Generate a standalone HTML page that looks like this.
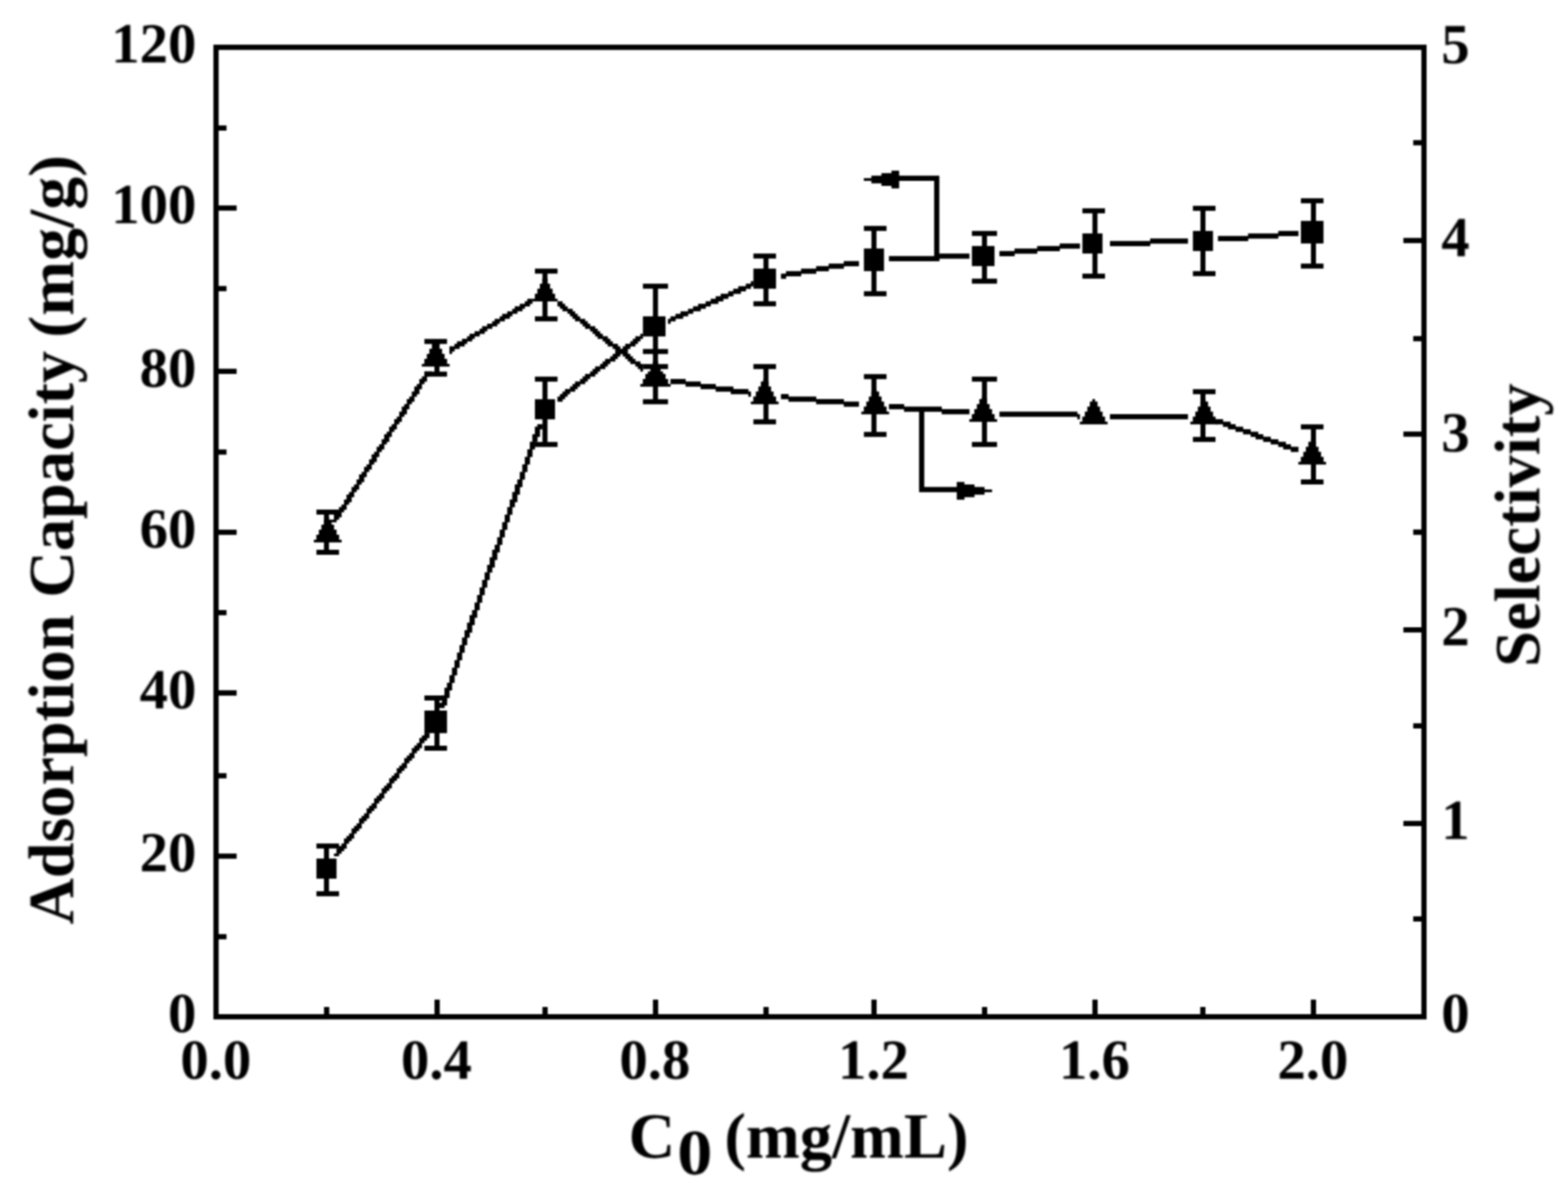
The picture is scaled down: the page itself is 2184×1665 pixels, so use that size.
<!DOCTYPE html>
<html lang="en"><head><meta charset="utf-8"><title>Adsorption Capacity and Selectivity vs C0</title>
<style>html,body{margin:0;padding:0;background:#fff;}body{width:2184px;height:1665px;}svg{display:block;}text{text-rendering:geometricPrecision;font-family:'Liberation Serif',serif;font-weight:bold;fill:#000;}</style></head><body>
<svg width="2184" height="1665" viewBox="0 0 2184 1665">
<rect x="0" y="0" width="2184" height="1665" fill="#fff"/>
<defs><filter id="soft" x="0" y="0" width="2184" height="1665" filterUnits="userSpaceOnUse" color-interpolation-filters="sRGB"><feGaussianBlur stdDeviation="1"/></filter><filter id="softer" x="0" y="0" width="2184" height="1665" filterUnits="userSpaceOnUse" color-interpolation-filters="sRGB"><feGaussianBlur stdDeviation="1.5"/></filter></defs>
<g filter="url(#soft)">
<rect x="300.90" y="65.90" width="1682.50" height="1350.80" fill="none" stroke="#000" stroke-width="7.30"/>
<path d="M300.90 178.30H315.50M300.90 289.80H329.60M300.90 402.20H315.50M300.90 517.40H329.60M300.90 629.80H315.50M300.90 741.70H329.60M300.90 853.70H315.50M300.90 965.50H329.60M300.90 1080.90H315.50M300.90 1192.90H329.60M300.90 1305.10H315.50M1983.40 198.90H1968.40M1983.40 335.20H1954.70M1983.40 471.90H1968.40M1983.40 604.80H1954.70M1983.40 741.50H1968.40M1983.40 877.70H1954.70M1983.40 1011.40H1968.40M1983.40 1147.30H1954.70M1983.40 1280.30H1968.40M454.97 1416.70V1402.90M608.85 1416.70V1392.70M759.20 1416.70V1402.90M913.10 1416.70V1392.70M1067.00 1416.70V1402.90M1217.40 1416.70V1392.70M1371.40 1416.70V1402.90M1525.20 1416.70V1392.70M1675.40 1416.70V1402.90M1829.45 1416.70V1392.70" stroke="#000" stroke-width="7.30" fill="none"/>
<path d="M591.04 1021.30H598.28V1025.03H591.04ZM587.54 1024.79H598.28V1028.53H587.54ZM584.05 1028.29H594.78V1032.03H584.05ZM584.05 1031.79H591.28V1035.53H584.05ZM580.55 1035.29H587.78V1039.03H580.55ZM577.05 1038.79H587.78V1042.52H577.05ZM573.55 1042.28H584.29V1046.02H573.55ZM573.55 1045.78H580.79V1049.52H573.55ZM570.05 1049.28H577.29V1053.02H570.05ZM566.56 1052.78H577.29V1056.52H566.56ZM563.06 1056.28H573.79V1060.01H563.06ZM563.06 1059.77H570.29V1063.51H563.06ZM559.56 1063.27H566.80V1067.01H559.56ZM556.06 1066.77H566.80V1070.51H556.06ZM552.56 1070.27H563.30V1074.01H552.56ZM552.56 1073.77H559.80V1077.50H552.56ZM549.07 1077.26H556.30V1081.00H549.07ZM545.57 1080.76H556.30V1084.50H545.57ZM542.07 1084.26H552.80V1088.00H542.07ZM542.07 1087.76H549.31V1091.50H542.07ZM538.57 1091.26H545.81V1094.99H538.57ZM535.07 1094.75H545.81V1098.49H535.07ZM531.58 1098.25H542.31V1101.99H531.58ZM531.58 1101.75H538.81V1105.49H531.58ZM528.08 1105.25H535.31V1108.99H528.08ZM524.58 1108.75H535.31V1112.48H524.58ZM521.08 1112.24H531.82V1115.98H521.08ZM521.08 1115.74H528.32V1119.48H521.08ZM517.58 1119.24H524.82V1122.98H517.58ZM514.09 1122.74H524.82V1126.48H514.09ZM510.59 1126.24H521.32V1129.97H510.59ZM510.59 1129.73H517.82V1133.47H510.59ZM507.09 1133.23H514.33V1136.97H507.09ZM503.59 1136.73H514.33V1140.47H503.59ZM500.09 1140.23H510.83V1143.97H500.09ZM500.09 1143.73H507.33V1147.46H500.09ZM496.60 1147.22H503.83V1150.96H496.60ZM493.10 1150.72H503.83V1154.46H493.10ZM489.60 1154.22H500.33V1157.96H489.60ZM489.60 1157.72H496.84V1161.46H489.60ZM486.10 1161.22H493.34V1164.95H486.10ZM482.60 1164.71H493.34V1168.45H482.60ZM479.11 1168.21H489.84V1171.95H479.11ZM479.11 1171.71H486.34V1175.45H479.11ZM475.61 1175.21H482.84V1178.95H475.61ZM472.11 1178.71H482.84V1182.44H472.11ZM468.61 1182.20H479.35V1185.94H468.61ZM468.61 1185.70H475.85V1189.44H468.61ZM465.11 1189.20H472.35V1192.94H465.11ZM748.45 591.04H755.69V594.78H748.45ZM744.95 594.54H755.69V598.28H744.95ZM744.95 598.04H752.19V601.78H744.95ZM744.95 601.54H752.19V605.27H744.95ZM741.46 605.03H752.19V608.77H741.46ZM741.46 608.53H748.69V612.27H741.46ZM741.46 612.03H748.69V615.77H741.46ZM737.96 615.53H745.19V619.27H737.96ZM737.96 619.03H745.19V622.76H737.96ZM737.96 622.52H745.19V626.26H737.96ZM734.46 626.02H741.70V629.76H734.46ZM734.46 629.52H741.70V633.26H734.46ZM734.46 633.02H741.70V636.76H734.46ZM730.96 636.52H738.20V640.25H730.96ZM730.96 640.01H738.20V643.75H730.96ZM730.96 643.51H738.20V647.25H730.96ZM727.46 647.01H734.70V650.75H727.46ZM727.46 650.51H734.70V654.25H727.46ZM727.46 654.01H734.70V657.74H727.46ZM723.97 657.50H731.20V661.24H723.97ZM723.97 661.00H731.20V664.74H723.97ZM723.97 664.50H731.20V668.24H723.97ZM720.47 668.00H727.70V671.74H720.47ZM720.47 671.50H727.70V675.23H720.47ZM716.97 674.99H727.70V678.73H716.97ZM716.97 678.49H724.21V682.23H716.97ZM716.97 681.99H724.21V685.73H716.97ZM713.47 685.49H724.21V689.23H713.47ZM713.47 688.99H720.71V692.72H713.47ZM713.47 692.48H720.71V696.22H713.47ZM709.97 695.98H720.71V699.72H709.97ZM709.97 699.48H717.21V703.22H709.97ZM709.97 702.98H717.21V706.72H709.97ZM706.48 706.48H713.71V710.21H706.48ZM706.48 709.97H713.71V713.71H706.48ZM706.48 713.47H713.71V717.21H706.48ZM702.98 716.97H710.21V720.71H702.98ZM702.98 720.47H710.21V724.21H702.98ZM702.98 723.97H710.21V727.70H702.98ZM699.48 727.46H706.72V731.20H699.48ZM699.48 730.96H706.72V734.70H699.48ZM699.48 734.46H706.72V738.20H699.48ZM695.98 737.96H703.22V741.70H695.98ZM695.98 741.46H703.22V745.19H695.98ZM695.98 744.95H703.22V748.69H695.98ZM692.48 748.45H699.72V752.19H692.48ZM692.48 751.95H699.72V755.69H692.48ZM692.48 755.45H699.72V759.19H692.48ZM688.99 758.95H696.22V762.68H688.99ZM688.99 762.44H696.22V766.18H688.99ZM685.49 765.94H696.22V769.68H685.49ZM685.49 769.44H692.72V773.18H685.49ZM685.49 772.94H692.72V776.68H685.49ZM681.99 776.44H692.72V780.17H681.99ZM681.99 779.93H689.23V783.67H681.99ZM681.99 783.43H689.23V787.17H681.99ZM678.49 786.93H689.23V790.67H678.49ZM678.49 790.43H685.73V794.17H678.49ZM678.49 793.93H685.73V797.66H678.49ZM674.99 797.42H682.23V801.16H674.99ZM674.99 800.92H682.23V804.66H674.99ZM674.99 804.42H682.23V808.16H674.99ZM671.50 807.92H678.73V811.66H671.50ZM671.50 811.42H678.73V815.15H671.50ZM671.50 814.91H678.73V818.65H671.50ZM668.00 818.41H675.23V822.15H668.00ZM668.00 821.91H675.23V825.65H668.00ZM668.00 825.41H675.23V829.15H668.00ZM664.50 828.91H671.74V832.64H664.50ZM664.50 832.40H671.74V836.14H664.50ZM664.50 835.90H671.74V839.64H664.50ZM661.00 839.40H668.24V843.14H661.00ZM661.00 842.90H668.24V846.64H661.00ZM661.00 846.40H668.24V850.13H661.00ZM657.50 849.89H664.74V853.63H657.50ZM657.50 853.39H664.74V857.13H657.50ZM654.01 856.89H664.74V860.63H654.01ZM654.01 860.39H661.24V864.13H654.01ZM654.01 863.89H661.24V867.62H654.01ZM650.51 867.38H661.24V871.12H650.51ZM650.51 870.88H657.74V874.62H650.51ZM650.51 874.38H657.74V878.12H650.51ZM647.01 877.88H657.74V881.62H647.01ZM647.01 881.38H654.25V885.11H647.01ZM647.01 884.87H654.25V888.61H647.01ZM643.51 888.37H650.75V892.11H643.51ZM643.51 891.87H650.75V895.61H643.51ZM643.51 895.37H650.75V899.11H643.51ZM640.01 898.87H647.25V902.60H640.01ZM640.01 902.36H647.25V906.10H640.01ZM640.01 905.86H647.25V909.60H640.01ZM636.52 909.36H643.75V913.10H636.52ZM636.52 912.86H643.75V916.60H636.52ZM636.52 916.36H643.75V920.09H636.52ZM633.02 919.85H640.25V923.59H633.02ZM633.02 923.35H640.25V927.09H633.02ZM633.02 926.85H640.25V930.59H633.02ZM629.52 930.35H636.76V934.09H629.52ZM629.52 933.85H636.76V937.58H629.52ZM629.52 937.34H636.76V941.08H629.52ZM626.02 940.84H633.26V944.58H626.02ZM626.02 944.34H633.26V948.08H626.02ZM626.02 947.84H633.26V951.58H626.02ZM622.52 951.34H629.76V955.07H622.52ZM622.52 954.83H629.76V958.57H622.52ZM619.03 958.33H629.76V962.07H619.03ZM619.03 961.83H626.26V965.57H619.03ZM619.03 965.33H626.26V969.07H619.03ZM615.53 968.83H626.26V972.56H615.53ZM615.53 972.32H622.76V976.06H615.53ZM615.53 975.82H622.76V979.56H615.53ZM612.03 979.32H622.76V983.06H612.03ZM612.03 982.82H619.27V986.56H612.03ZM891.87 465.11H895.61V468.85H891.87ZM884.87 468.61H895.61V472.35H884.87ZM881.38 472.11H892.11V475.85H881.38ZM877.88 475.61H888.61V479.35H877.88ZM870.88 479.11H885.11V482.84H870.88ZM867.38 482.60H878.12V486.34H867.38ZM863.89 486.10H874.62V489.84H863.89ZM856.89 489.60H871.12V493.34H856.89ZM853.39 493.10H864.13V496.84H853.39ZM849.89 496.60H860.63V500.33H849.89ZM842.90 500.09H857.13V503.83H842.90ZM839.40 503.59H850.13V507.33H839.40ZM835.90 507.09H846.64V510.83H835.90ZM828.91 510.59H843.14V514.33H828.91ZM825.41 514.09H836.14V517.82H825.41ZM821.91 517.58H832.64V521.32H821.91ZM814.91 521.08H829.15V524.82H814.91ZM811.42 524.58H822.15V528.32H811.42ZM807.92 528.08H818.65V531.82H807.92ZM800.92 531.58H815.15V535.31H800.92ZM797.42 535.07H808.16V538.81H797.42ZM793.93 538.57H804.66V542.31H793.93ZM786.93 542.07H801.16V545.81H786.93ZM783.43 545.57H794.17V549.31H783.43ZM779.93 549.07H790.67V552.80H779.93ZM776.44 552.56H787.17V556.30H776.44ZM776.44 556.06H783.67V559.80H776.44ZM1045.78 391.66H1049.52V395.39H1045.78ZM1038.79 395.15H1049.52V398.89H1038.79ZM1028.29 398.65H1046.02V402.39H1028.29ZM1021.30 402.15H1039.03V405.89H1021.30ZM1014.30 405.65H1032.03V409.39H1014.30ZM1003.81 409.15H1021.54V412.88H1003.81ZM996.81 412.64H1014.54V416.38H996.81ZM989.81 416.14H1007.54V419.88H989.81ZM982.82 419.64H1000.55V423.38H982.82ZM972.32 423.14H990.05V426.88H972.32ZM965.33 426.64H983.06V430.37H965.33ZM958.33 430.13H976.06V433.87H958.33ZM947.84 433.63H965.57V437.37H947.84ZM940.84 437.13H958.57V440.87H940.84ZM933.85 440.63H951.58V444.37H933.85ZM930.35 444.13H941.08V447.86H930.35ZM930.35 447.62H934.09V451.36H930.35ZM1175.21 363.67H1196.44V367.41H1175.21ZM1154.22 367.17H1196.44V370.91H1154.22ZM1136.73 370.67H1175.45V374.41H1136.73ZM1115.74 374.17H1154.46V377.90H1115.74ZM1094.75 377.66H1136.97V381.40H1094.75ZM1087.76 381.16H1115.98V384.90H1087.76ZM1087.76 384.66H1094.99V388.40H1087.76ZM1308.13 353.18H1350.35V356.92H1308.13ZM1238.17 356.68H1350.35V360.41H1238.17ZM1238.17 360.17H1308.37V363.91H1238.17ZM1476.04 339.19H1504.26V342.92H1476.04ZM1444.55 342.68H1504.26V346.42H1444.55ZM1413.07 346.18H1476.28V349.92H1413.07ZM1392.08 349.68H1444.79V353.42H1392.08ZM1392.08 353.18H1413.31V356.92H1392.08ZM1601.96 332.19H1654.67V335.93H1601.96ZM1546.00 335.69H1654.67V339.43H1546.00ZM1546.00 339.19H1602.20V342.92H1546.00ZM1780.36 321.70H1808.59V325.43H1780.36ZM1738.39 325.19H1808.59V328.93H1738.39ZM1696.41 328.69H1780.60V332.43H1696.41ZM1696.41 332.19H1738.63V335.93H1696.41Z" fill="#000"/>
<path d="M591.04 517.58H601.78V521.32H591.04ZM591.04 521.08H598.28V524.82H591.04ZM587.54 524.58H594.78V528.32H587.54ZM584.05 528.08H594.78V531.82H584.05ZM584.05 531.58H591.28V535.31H584.05ZM580.55 535.07H587.78V538.81H580.55ZM577.05 538.57H587.78V542.31H577.05ZM577.05 542.07H584.29V545.81H577.05ZM573.55 545.57H584.29V549.31H573.55ZM573.55 549.07H580.79V552.80H573.55ZM570.05 552.56H577.29V556.30H570.05ZM566.56 556.06H577.29V559.80H566.56ZM566.56 559.56H573.79V563.30H566.56ZM563.06 563.06H570.29V566.80H563.06ZM559.56 566.56H570.29V570.29H559.56ZM559.56 570.05H566.80V573.79H559.56ZM556.06 573.55H566.80V577.29H556.06ZM556.06 577.05H563.30V580.79H556.06ZM552.56 580.55H559.80V584.29H552.56ZM549.07 584.05H559.80V587.78H549.07ZM549.07 587.54H556.30V591.28H549.07ZM545.57 591.04H552.80V594.78H545.57ZM542.07 594.54H552.80V598.28H542.07ZM542.07 598.04H549.31V601.78H542.07ZM538.57 601.54H545.81V605.27H538.57ZM535.07 605.03H545.81V608.77H535.07ZM535.07 608.53H542.31V612.27H535.07ZM531.58 612.03H542.31V615.77H531.58ZM531.58 615.53H538.81V619.27H531.58ZM528.08 619.03H535.31V622.76H528.08ZM524.58 622.52H535.31V626.26H524.58ZM524.58 626.02H531.82V629.76H524.58ZM521.08 629.52H528.32V633.26H521.08ZM517.58 633.02H528.32V636.76H517.58ZM517.58 636.52H524.82V640.25H517.58ZM514.09 640.01H524.82V643.75H514.09ZM514.09 643.51H521.32V647.25H514.09ZM510.59 647.01H517.82V650.75H510.59ZM507.09 650.51H517.82V654.25H507.09ZM507.09 654.01H514.33V657.74H507.09ZM503.59 657.50H510.83V661.24H503.59ZM500.09 661.00H510.83V664.74H500.09ZM500.09 664.50H507.33V668.24H500.09ZM496.60 668.00H507.33V671.74H496.60ZM496.60 671.50H503.83V675.23H496.60ZM493.10 674.99H500.33V678.73H493.10ZM489.60 678.49H500.33V682.23H489.60ZM489.60 681.99H496.84V685.73H489.60ZM486.10 685.49H493.34V689.23H486.10ZM482.60 688.99H493.34V692.72H482.60ZM482.60 692.48H489.84V696.22H482.60ZM479.11 695.98H489.84V699.72H479.11ZM479.11 699.48H486.34V703.22H479.11ZM475.61 702.98H482.84V706.72H475.61ZM472.11 706.48H482.84V710.21H472.11ZM472.11 709.97H479.35V713.71H472.11ZM468.61 713.47H475.85V717.21H468.61ZM465.11 716.97H475.85V720.71H465.11ZM465.11 720.47H472.35V724.21H465.11ZM461.62 723.97H468.85V727.70H461.62ZM734.46 416.14H741.70V419.88H734.46ZM730.96 419.64H741.70V423.38H730.96ZM723.97 423.14H738.20V426.88H723.97ZM716.97 426.64H731.20V430.37H716.97ZM713.47 430.13H727.70V433.87H713.47ZM706.48 433.63H720.71V437.37H706.48ZM699.48 437.13H713.71V440.87H699.48ZM695.98 440.63H710.21V444.37H695.98ZM688.99 444.13H703.22V447.86H688.99ZM685.49 447.62H696.22V451.36H685.49ZM678.49 451.12H692.72V454.86H678.49ZM671.50 454.62H685.73V458.36H671.50ZM668.00 458.12H678.73V461.86H668.00ZM661.00 461.62H675.23V465.35H661.00ZM654.01 465.11H668.24V468.85H654.01ZM650.51 468.61H661.24V472.35H650.51ZM643.51 472.11H657.74V475.85H643.51ZM636.52 475.61H650.75V479.35H636.52ZM633.02 479.11H647.25V482.84H633.02ZM626.02 482.60H640.25V486.34H626.02ZM626.02 486.10H633.26V489.84H626.02ZM626.02 489.60H629.76V493.34H626.02ZM776.44 419.64H783.67V423.38H776.44ZM776.44 423.14H787.17V426.88H776.44ZM779.93 426.64H790.67V430.37H779.93ZM783.43 430.13H797.66V433.87H783.43ZM790.43 433.63H801.16V437.37H790.43ZM793.93 437.13H804.66V440.87H793.93ZM797.42 440.63H808.16V444.37H797.42ZM800.92 444.13H815.15V447.86H800.92ZM807.92 447.62H818.65V451.36H807.92ZM811.42 451.12H822.15V454.86H811.42ZM814.91 454.62H829.15V458.36H814.91ZM821.91 458.12H832.64V461.86H821.91ZM825.41 461.62H836.14V465.35H825.41ZM828.91 465.11H839.64V468.85H828.91ZM832.40 468.61H846.64V472.35H832.40ZM839.40 472.11H850.13V475.85H839.40ZM842.90 475.61H853.63V479.35H842.90ZM846.40 479.11H860.63V482.84H846.40ZM853.39 482.60H864.13V486.34H853.39ZM856.89 486.10H867.62V489.84H856.89ZM860.39 489.60H874.62V493.34H860.39ZM867.38 493.10H878.12V496.84H867.38ZM870.88 496.60H881.62V500.33H870.88ZM874.38 500.09H885.11V503.83H874.38ZM877.88 503.59H892.11V507.33H877.88ZM884.87 507.09H895.61V510.83H884.87ZM888.37 510.59H895.61V514.33H888.37ZM891.87 514.09H895.61V517.82H891.87ZM933.85 528.08H955.07V531.82H933.85ZM933.85 531.58H976.06V535.31H933.85ZM954.83 535.07H997.05V538.81H954.83ZM975.82 538.57H1021.54V542.31H975.82ZM996.81 542.07H1042.52V545.81H996.81ZM1017.80 545.57H1046.02V549.31H1017.80ZM1042.28 549.07H1046.02V552.80H1042.28ZM1087.76 549.07H1098.49V552.80H1087.76ZM1087.76 552.56H1136.97V556.30H1087.76ZM1098.25 556.06H1175.45V559.80H1098.25ZM1136.73 559.56H1196.44V563.30H1136.73ZM1175.21 563.06H1196.44V566.80H1175.21ZM1238.17 563.06H1259.40V566.80H1238.17ZM1238.17 566.56H1311.87V570.29H1238.17ZM1259.16 570.05H1350.35V573.79H1259.16ZM1311.63 573.55H1350.35V577.29H1311.63ZM1392.08 573.55H1500.76V577.29H1392.08ZM1392.08 577.05H1504.26V580.79H1392.08ZM1500.52 580.55H1504.26V584.29H1500.52ZM1546.00 577.05H1654.67V580.79H1546.00ZM1546.00 580.55H1654.67V584.29H1546.00ZM1692.91 584.05H1703.65V587.78H1692.91ZM1692.91 587.54H1714.14V591.28H1692.91ZM1703.41 591.04H1721.14V594.78H1703.41ZM1710.40 594.54H1731.63V598.28H1710.40ZM1720.90 598.04H1742.12V601.78H1720.90ZM1731.39 601.54H1752.62V605.27H1731.39ZM1741.88 605.03H1759.61V608.77H1741.88ZM1748.88 608.53H1770.11V612.27H1748.88ZM1759.37 612.03H1780.60V615.77H1759.37ZM1769.87 615.53H1791.10V619.27H1769.87ZM1780.36 619.03H1798.09V622.76H1780.36ZM1787.36 622.52H1808.59V626.26H1787.36ZM1797.85 626.02H1808.59V629.76H1797.85Z" fill="#000"/>
<path d="M454.74 1178.83V1245.29M454.74 713.59V769.56M608.65 972.44V1042.40M608.65 475.73V521.20M759.07 528.20V619.15M759.07 377.78V444.25M912.98 398.77V510.71M912.98 489.72V559.68M1066.89 356.80V423.26M1066.89 510.71V587.66M1217.30 318.32V409.27M1217.30 524.70V605.15M1371.22 325.31V391.78M1371.22 528.20V619.15M1525.13 293.83V384.78M1675.54 290.33V381.28M1675.54 545.69V612.15M1829.45 279.84V370.79M1829.45 594.66V671.62" stroke="#000" stroke-width="7.00" fill="none"/>
<path d="M440.75 1178.83H472.23M440.75 1245.29H472.23M440.75 713.59H472.23M440.75 769.56H472.23M591.16 972.44H622.64M591.16 1042.40H622.64M591.16 475.73H622.64M591.16 521.20H622.64M745.07 528.20H776.56M745.07 619.15H776.56M745.07 377.78H776.56M745.07 444.25H776.56M895.49 398.77H930.47M895.49 510.71H930.47M895.49 489.72H930.47M895.49 559.68H930.47M1049.40 356.80H1080.88M1049.40 423.26H1080.88M1049.40 510.71H1080.88M1049.40 587.66H1080.88M1203.31 318.32H1234.79M1203.31 409.27H1234.79M1203.31 524.70H1234.79M1203.31 605.15H1234.79M1353.73 325.31H1388.71M1353.73 391.78H1388.71M1353.73 528.20H1388.71M1353.73 619.15H1388.71M1507.64 293.83H1539.12M1507.64 384.78H1539.12M1661.55 290.33H1693.03M1661.55 381.28H1693.03M1661.55 545.69H1693.03M1661.55 612.15H1693.03M1811.96 279.84H1843.45M1811.96 370.79H1843.45M1811.96 594.66H1843.45M1811.96 671.62H1843.45" stroke="#000" stroke-width="7.00" fill="none"/>
<path d="M440.75 1196.32H468.73V1224.30H440.75ZM591.16 989.93H622.64V1021.42H591.16ZM745.07 556.18H773.06V584.17H745.07ZM895.49 440.75H926.97V468.73H895.49ZM1049.40 374.29H1080.88V402.27H1049.40ZM1203.31 346.30H1231.30V377.78H1203.31ZM1353.73 342.80H1385.21V370.79H1353.73ZM1507.64 325.31H1535.62V353.30H1507.64ZM1661.55 321.82H1689.53V349.80H1661.55ZM1811.96 307.82H1843.45V339.31H1811.96ZM454.62 720.47H458.36V724.21H454.62ZM451.12 723.97H461.86V727.70H451.12ZM451.12 727.46H461.86V731.20H451.12ZM447.62 730.96H465.35V734.70H447.62ZM447.62 734.46H465.35V738.20H447.62ZM444.13 737.96H468.85V741.70H444.13ZM444.13 741.46H468.85V745.19H444.13ZM440.63 744.95H472.35V748.69H440.63ZM440.63 748.45H472.35V752.19H440.63ZM437.13 751.95H475.85V755.69H437.13ZM605.03 475.61H608.77V479.35H605.03ZM601.54 479.11H612.27V482.84H601.54ZM601.54 482.60H612.27V486.34H601.54ZM598.04 486.10H615.77V489.84H598.04ZM598.04 489.60H615.77V493.34H598.04ZM594.54 493.10H619.27V496.84H594.54ZM594.54 496.60H619.27V500.33H594.54ZM591.04 500.09H622.76V503.83H591.04ZM591.04 503.59H622.76V507.33H591.04ZM587.54 507.09H626.26V510.83H587.54ZM755.45 388.16H762.68V391.90H755.45ZM755.45 391.66H762.68V395.39H755.45ZM751.95 395.15H766.18V398.89H751.95ZM751.95 398.65H766.18V402.39H751.95ZM748.45 402.15H769.68V405.89H748.45ZM748.45 405.65H769.68V409.39H748.45ZM744.95 409.15H773.18V412.88H744.95ZM744.95 412.64H773.18V416.38H744.95ZM741.46 416.14H776.68V419.88H741.46ZM909.36 503.59H916.60V507.33H909.36ZM909.36 507.09H916.60V510.83H909.36ZM905.86 510.59H920.09V514.33H905.86ZM905.86 514.09H920.09V517.82H905.86ZM902.36 517.58H923.59V521.32H902.36ZM898.87 521.08H927.09V524.82H898.87ZM898.87 524.58H927.09V528.32H898.87ZM895.37 528.08H930.59V531.82H895.37ZM895.37 531.58H930.59V535.31H895.37ZM891.87 535.07H934.09V538.81H891.87ZM1063.27 528.08H1067.01V531.82H1063.27ZM1059.77 531.58H1070.51V535.31H1059.77ZM1059.77 535.07H1070.51V538.81H1059.77ZM1056.28 538.57H1074.01V542.31H1056.28ZM1056.28 542.07H1074.01V545.81H1056.28ZM1052.78 545.57H1077.50V549.31H1052.78ZM1052.78 549.07H1077.50V552.80H1052.78ZM1049.28 552.56H1081.00V556.30H1049.28ZM1049.28 556.06H1081.00V559.80H1049.28ZM1045.78 559.56H1084.50V563.30H1045.78ZM1217.18 542.07H1220.92V545.81H1217.18ZM1213.69 545.57H1224.42V549.31H1213.69ZM1213.69 549.07H1224.42V552.80H1213.69ZM1210.19 552.56H1227.92V556.30H1210.19ZM1210.19 556.06H1227.92V559.80H1210.19ZM1206.69 559.56H1231.42V563.30H1206.69ZM1206.69 563.06H1231.42V566.80H1206.69ZM1203.19 566.56H1234.91V570.29H1203.19ZM1203.19 570.05H1234.91V573.79H1203.19ZM1199.69 573.55H1238.41V577.29H1199.69ZM1367.60 552.56H1371.34V556.30H1367.60ZM1364.10 556.06H1374.83V559.80H1364.10ZM1364.10 559.56H1374.83V563.30H1364.10ZM1360.60 563.06H1378.33V566.80H1360.60ZM1360.60 566.56H1378.33V570.29H1360.60ZM1357.10 570.05H1381.83V573.79H1357.10ZM1357.10 573.55H1381.83V577.29H1357.10ZM1353.61 577.05H1385.33V580.79H1353.61ZM1353.61 580.55H1385.33V584.29H1353.61ZM1350.11 584.05H1388.83V587.78H1350.11ZM1521.51 556.06H1525.25V559.80H1521.51ZM1518.01 559.56H1528.75V563.30H1518.01ZM1518.01 563.06H1528.75V566.80H1518.01ZM1514.51 566.56H1532.24V570.29H1514.51ZM1514.51 570.05H1532.24V573.79H1514.51ZM1511.02 573.55H1535.74V577.29H1511.02ZM1511.02 577.05H1535.74V580.79H1511.02ZM1507.52 580.55H1539.24V584.29H1507.52ZM1507.52 584.05H1539.24V587.78H1507.52ZM1504.02 587.54H1542.74V591.28H1504.02ZM1675.42 556.06H1679.16V559.80H1675.42ZM1671.92 559.56H1682.66V563.30H1671.92ZM1671.92 563.06H1682.66V566.80H1671.92ZM1668.43 566.56H1686.16V570.29H1668.43ZM1668.43 570.05H1686.16V573.79H1668.43ZM1664.93 573.55H1689.65V577.29H1664.93ZM1664.93 577.05H1689.65V580.79H1664.93ZM1661.43 580.55H1693.15V584.29H1661.43ZM1661.43 584.05H1693.15V587.78H1661.43ZM1657.93 587.54H1696.65V591.28H1657.93ZM1825.84 612.03H1829.57V615.77H1825.84ZM1822.34 615.53H1833.07V619.27H1822.34ZM1822.34 619.03H1833.07V622.76H1822.34ZM1818.84 622.52H1836.57V626.26H1818.84ZM1818.84 626.02H1836.57V629.76H1818.84ZM1815.34 629.52H1840.07V633.26H1815.34ZM1815.34 633.02H1840.07V636.76H1815.34ZM1811.84 636.52H1843.57V640.25H1811.84ZM1811.84 640.01H1843.57V643.75H1811.84ZM1808.35 643.51H1847.06V647.25H1808.35Z" fill="#000"/>
<path d="M1301.14 244.74H1308.37V363.91H1301.14ZM1245.17 244.74H1308.37V251.98H1245.17ZM1203.19 248.24H1252.40V251.98H1203.19ZM1213.69 244.74H1252.40V255.47H1213.69ZM1227.68 241.24H1252.40V258.97H1227.68ZM1241.67 237.74H1252.40V262.47H1241.67ZM1280.15 570.05H1287.38V685.73H1280.15ZM1280.15 678.49H1343.35V685.73H1280.15ZM1332.62 671.50H1343.35V696.22H1332.62ZM1343.11 674.99H1357.34V692.72H1343.11ZM1357.10 678.49H1371.34V689.23H1357.10ZM1371.10 681.99H1381.83V685.73H1371.10Z" fill="#000"/>
</g>
<g filter="url(#softer)">
<text transform="translate(273.50,1437.60)" font-size="79.00" text-anchor="end">0</text>
<text transform="translate(273.50,1214.10)" font-size="79.00" text-anchor="end">20</text>
<text transform="translate(273.50,986.70)" font-size="79.00" text-anchor="end">40</text>
<text transform="translate(273.50,762.90)" font-size="79.00" text-anchor="end">60</text>
<text transform="translate(273.50,538.60)" font-size="79.00" text-anchor="end">80</text>
<text transform="translate(273.50,311.00)" font-size="79.00" text-anchor="end">100</text>
<text transform="translate(273.50,87.10)" font-size="79.00" text-anchor="end">120</text>
<text transform="translate(2007.40,1438.40)" font-size="79.00" text-anchor="start">0</text>
<text transform="translate(2007.40,1168.80)" font-size="79.00" text-anchor="start">1</text>
<text transform="translate(2007.40,899.40)" font-size="79.00" text-anchor="start">2</text>
<text transform="translate(2007.40,629.40)" font-size="79.00" text-anchor="start">3</text>
<text transform="translate(2007.40,357.30)" font-size="79.00" text-anchor="start">4</text>
<text transform="translate(2007.40,87.80)" font-size="79.00" text-anchor="start">5</text>
<text transform="translate(300.60,1503.00)" font-size="79.00" text-anchor="middle">0.0</text>
<text transform="translate(607.95,1503.00)" font-size="79.00" text-anchor="middle">0.4</text>
<text transform="translate(912.20,1503.00)" font-size="79.00" text-anchor="middle">0.8</text>
<text transform="translate(1216.50,1503.00)" font-size="79.00" text-anchor="middle">1.2</text>
<text transform="translate(1524.30,1503.00)" font-size="79.00" text-anchor="middle">1.6</text>
<text transform="translate(1828.55,1503.00)" font-size="79.00" text-anchor="middle">2.0</text>
<text transform="translate(101.90,0) rotate(-90)" font-size="90"><tspan x="-1288.00" textLength="431.63" lengthAdjust="spacingAndGlyphs">Adsorption</tspan> <tspan x="-832.80" textLength="343.95" lengthAdjust="spacingAndGlyphs">Capacity</tspan> <tspan x="-470.50" textLength="254.67" lengthAdjust="spacingAndGlyphs">(mg/g)</tspan></text>
<text transform="translate(2144.00,731.70) rotate(-90)" font-size="90.00" text-anchor="middle">Selectivity</text>
<text transform="translate(0,1613.30)" font-size="90"><tspan x="875.50">C</tspan><tspan x="943.30" dy="22.70" textLength="49.05" lengthAdjust="spacingAndGlyphs">0</tspan> <tspan x="1009.00" dy="-22.70">(mg/mL)</tspan></text>
</g>
</svg></body></html>
